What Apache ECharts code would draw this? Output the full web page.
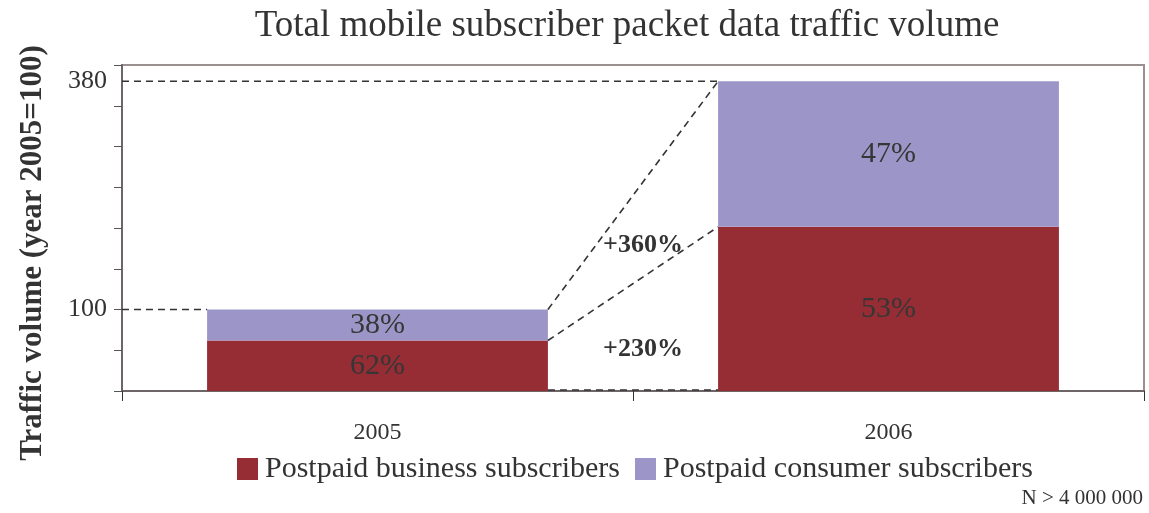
<!DOCTYPE html>
<html>
<head>
<meta charset="utf-8">
<script src="https://cdn.jsdelivr.net/npm/echarts@6/dist/echarts.min.js"></script>
<style>
  html, body { margin: 0; padding: 0; background: #fff; }
  #chart { width: 1149px; height: 513px; }
</style>
</head>
<body>
<div id="chart"></div>
<script>
// data (index: 2005 = 100)
var years = ["2005", "2006"];
var totals = [100, 380];
var businessShare = [62, 53];
var consumerShare = [38, 47];
var growthLabels = ["+360%", "+230%"];
var yLabelValues = [100, 380];

var business = totals.map(function (t, i) { return t * businessShare[i] / 100; });
var consumer = totals.map(function (t, i) { return t * consumerShare[i] / 100; });

var serif = "'Liberation Serif', 'DejaVu Serif', serif";
var BAR_W = 0.667; // bar width as share of the category band

var chart = echarts.init(document.getElementById("chart"));

chart.setOption({
  backgroundColor: "#fff",
  animation: false,
  textStyle: { fontFamily: serif },
  grid: {
    left: 122,
    right: 5,
    top: 65,
    bottom: 122,
    show: true,
    borderColor: "#9a9090",
    borderWidth: 2
  },
  legend: {
    top: 449,
    left: 232,
    itemWidth: 21,
    itemHeight: 22,
    itemGap: 15,
    icon: "rect",
    textStyle: { fontFamily: serif, fontSize: 30, color: "#333", padding: [0, 0, 0, 2] },
    data: ["Postpaid business subscribers", "Postpaid consumer subscribers"]
  },
  xAxis: {
    type: "category",
    data: years,
    axisLine: { lineStyle: { color: "#6e6666", width: 2 } },
    axisTick: { show: true, length: 10, lineStyle: { color: "#333" } },
    axisLabel: { fontFamily: serif, fontSize: 24, color: "#333", margin: 30 }
  },
  yAxis: {
    type: "value",
    min: 0,
    max: 400,
    interval: 50,
    splitLine: { show: false },
    axisLine: { show: true, lineStyle: { color: "#6e6666", width: 2 } },
    axisTick: { show: true, length: 8, lineStyle: { color: "#555" } },
    axisLabel: {
      customValues: yLabelValues,
      fontFamily: serif,
      fontSize: 26,
      color: "#333",
      margin: 15
    }
  },
  series: [
    {
      name: "Postpaid business subscribers",
      type: "bar",
      stack: "total",
      barWidth: (BAR_W * 100) + "%",
      itemStyle: { color: "#962d34" },
      label: {
        show: true,
        position: "inside",
        fontFamily: serif,
        fontSize: 30,
        color: "#363636",
        formatter: function (p) { return businessShare[p.dataIndex] + "%"; }
      },
      data: business
    },
    {
      name: "Postpaid consumer subscribers",
      type: "bar",
      stack: "total",
      barWidth: (BAR_W * 100) + "%",
      itemStyle: { color: "#9c96c8" },
      label: {
        show: true,
        position: "inside",
        fontFamily: serif,
        fontSize: 30,
        color: "#363636",
        formatter: function (p) { return consumerShare[p.dataIndex] + "%"; }
      },
      data: consumer
    },
    {
      // dashed connector lines between the two bars
      type: "custom",
      silent: true,
      z: 5,
      data: [[0, 0]],
      renderItem: function (params, api) {
        var band = api.size([1, 0])[0];
        var hw = band * BAR_W / 2;
        var axisX = params.coordSys.x;
        var c0 = api.coord([0, 0])[0];
        var c1 = api.coord([1, 0])[0];
        var y = function (v) { return api.coord([0, v])[1]; };
        var style = { stroke: "#333", lineWidth: 1.6, lineDash: [7, 5] };
        var segs = [
          [axisX, y(totals[0]), c0 - hw, y(totals[0])],
          [axisX, y(totals[1]), c1 - hw, y(totals[1])],
          [c0 + hw, y(totals[0]), c1 - hw, y(totals[1])],
          [c0 + hw, y(business[0]), c1 - hw, y(business[1])],
          [c0 + hw, y(0) - 1, c1 - hw, y(0) - 1]
        ];
        var children = segs.map(function (s) {
          return {
            type: "line",
            shape: { x1: s[0], y1: s[1], x2: s[2], y2: s[3] },
            style: style
          };
        });
        var mid = (c0 + c1) / 2 + 10;
        children.push({
          type: "text",
          style: {
            x: mid, y: y(179), text: growthLabels[0],
            font: "bold 26px " + serif, fill: "#333",
            align: "center", verticalAlign: "middle"
          }
        });
        children.push({
          type: "text",
          style: {
            x: mid, y: y(51), text: growthLabels[1],
            font: "bold 26px " + serif, fill: "#333",
            align: "center", verticalAlign: "middle"
          }
        });
        return { type: "group", children: children };
      }
    }
  ],
  graphic: [
    {
      type: "text",
      x: 627,
      y: 8,
      style: {
        text: "Total mobile subscriber packet data traffic volume",
        font: "37px " + serif,
        fill: "#333",
        align: "center",
        verticalAlign: "top"
      }
    },
    {
      type: "text",
      x: 33,
      y: 253,
      rotation: Math.PI / 2,
      style: {
        text: "Traffic volume (year 2005=100)",
        font: "bold 31px " + serif,
        fill: "#333",
        align: "center",
        verticalAlign: "middle"
      }
    },
    {
      type: "text",
      right: 6,
      bottom: 4,
      style: {
        text: "N > 4 000 000",
        font: "21px " + serif,
        fill: "#333"
      }
    }
  ]
});
</script>
</body>
</html>
